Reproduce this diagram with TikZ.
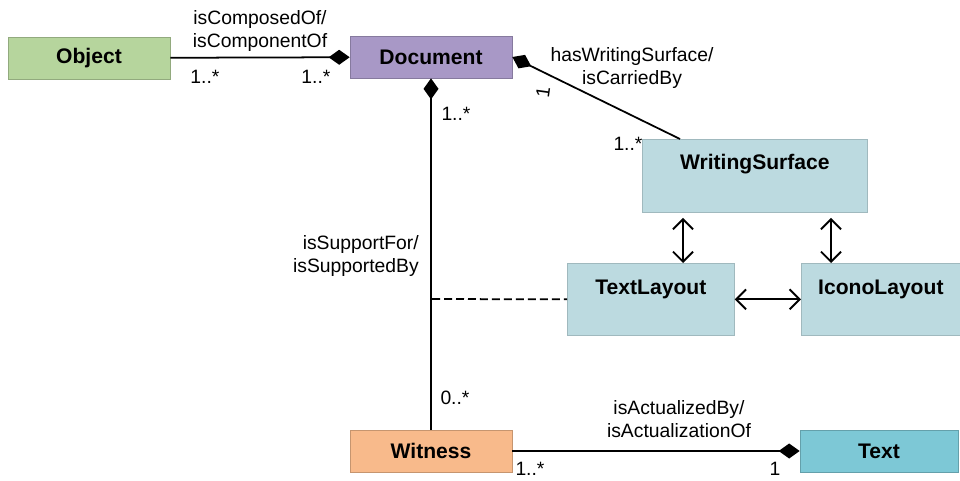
\documentclass[tikz,border=0pt]{standalone}
\usepackage{fontspec}
\setmainfont{Liberation Sans}
\usepackage{tikz}
\usetikzlibrary{arrows.meta, positioning, calc}
\definecolor{objgreen}{HTML}{B6D59D}
\definecolor{docpurple}{HTML}{A898C6}
\definecolor{wsblue}{HTML}{BCDAE0}
\definecolor{witorange}{HTML}{F8BA8B}
\definecolor{textblue}{HTML}{7DC8D6}
\tikzstyle{comp} = [line width=1pt, black]
\tikzstyle{dbl} = [line width=1.1pt, {Straight Barb[length=0.2cm,width=0.4cm]}-{Straight Barb[length=0.2cm,width=0.4cm]}]

\begin{document}
\begin{tikzpicture}[x=0.02cm, y=-0.02cm,
    classbox/.style={rectangle, draw=#1!80!black, line width=0.4pt, fill=#1, minimum height=0.84cm, minimum width=3.24cm, font=\fontsize{12pt}{14pt}\selectfont\bfseries},
    layoutbox/.style={rectangle, draw=wsblue!85!black, line width=0.4pt, fill=wsblue, inner ysep=0pt, anchor=north west, font=\fontsize{12pt}{14pt}\selectfont\bfseries},
    rolelabel/.style={align=center, font=\fontsize{11pt}{13pt}\selectfont},
    mult/.style={font=\fontsize{11pt}{13pt}\selectfont},
]
\useasboundingbox (0,0) rectangle (960,480);

% Classes
\node[classbox=objgreen] (Object) at (89,58) {Object};
\node[classbox=docpurple] (Document) at (431,57) {Document};
\node[classbox=witorange] (Witness) at (431,451) {Witness};
\node[classbox=textblue, minimum width=3.16cm] (Text) at (879,451) {Text};

% Layout boxes (label sits near the top)
\node[layoutbox, minimum width=4.5cm, text height=0.6cm, text depth=0.86cm] (WritingSurface) at (642,139) {WritingSurface};
\node[layoutbox, minimum width=3.34cm, text height=0.62cm, text depth=0.82cm] (TextLayout) at (567,263) {TextLayout};
\node[layoutbox, minimum width=3.18cm, text height=0.62cm, text depth=0.82cm] (IconoLayout) at (801,263) {IconoLayout};

% Composition links
\draw[comp, -{Diamond[length=0.42cm,width=0.3cm]}] (Object) -- (Document);
\coordinate (wsTop) at (680,139);
\draw[comp, {Diamond[length=0.42cm,width=0.3cm]}-] (Document.east) -- (wsTop);
\draw[comp, {Diamond[length=0.42cm,width=0.3cm]}-] (Document.south) -- (Witness.north);
\draw[comp, -{Diamond[length=0.42cm,width=0.3cm]}] (Witness) -- (Text);

% Dashed link to the support line
\coordinate (dashStart) at (432,299);
\draw[line width=1pt, dash pattern=on 0.16cm off 0.08cm] (dashStart) -- (TextLayout.west);

% Layout arrows
\coordinate (leftArr) at (683,0);
\coordinate (rightArr) at (831,0);
\draw[dbl, shorten <=3pt] (WritingSurface.south -| leftArr) -- (TextLayout.north -| leftArr);
\draw[dbl, shorten <=3pt] (WritingSurface.south -| rightArr) -- (IconoLayout.north -| rightArr);
\draw[dbl] (TextLayout.east) -- (IconoLayout.west);

% Role names
\node[rolelabel] (rComposed) at (260,31) {isComposedOf/\\isComponentOf};
\node[rolelabel] (rCarried) at (632,68) {hasWritingSurface/\\isCarriedBy};
\node[rolelabel, align=right, anchor=east] (rSupport) at (425,256) {isSupportFor/\\isSupportedBy};
\node[rolelabel] (rActual) at (679,419) {isActualizedBy/\\isActualizationOf};

% Multiplicities
\node[mult] (m1) at (205,77) {1..*};
\node[mult] (m2) at (316,77) {1..*};
\node[mult, rotate=82] (m3) at (543,92) {1};
\node[mult] (m4) at (628,144) {1..*};
\node[mult] (m5) at (456,114) {1..*};
\node[mult] (m6) at (455,398) {0..*};
\node[mult] (m7) at (530,469) {1..*};
\node[mult] (m8) at (775,469) {1};

\end{tikzpicture}
\end{document}
